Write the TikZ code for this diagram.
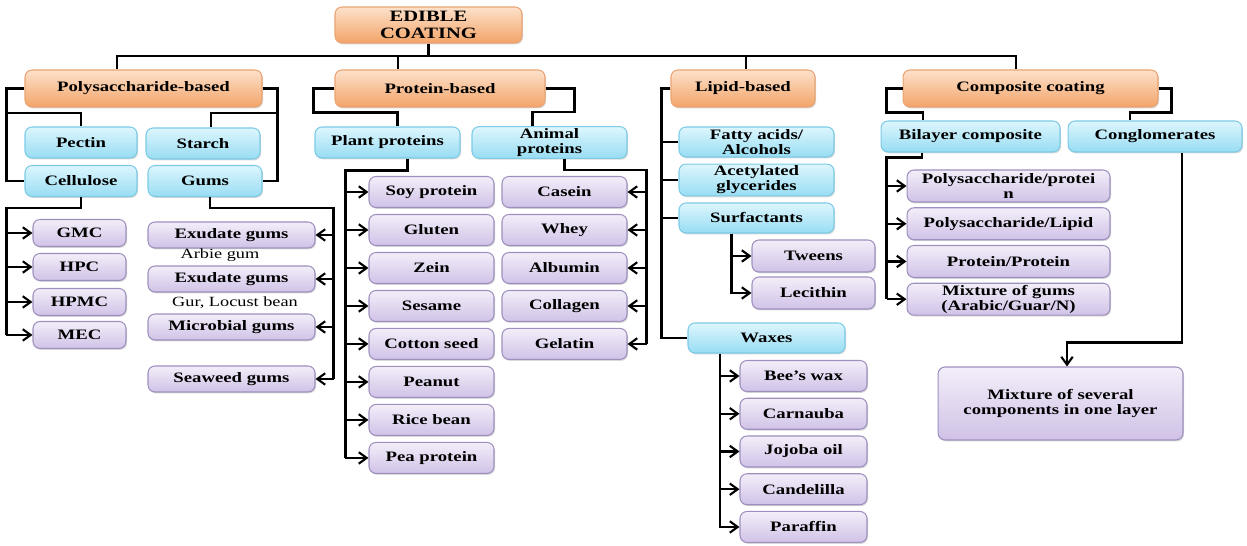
\documentclass[tikz,border=0pt]{standalone}
\usepackage{fontspec}
\setmainfont{Liberation Serif}[FakeStretch=1.3]
\usepackage{xcolor}
\usetikzlibrary{shapes,arrows.meta,positioning,calc,shadows}

\definecolor{orangetop}{HTML}{FDE1CB}
\definecolor{orangebot}{HTML}{F2A468}
\definecolor{orangeline}{HTML}{E9A472}
\definecolor{bluetop}{HTML}{DDF6FD}
\definecolor{bluebot}{HTML}{98DDF3}
\definecolor{blueline}{HTML}{7CCBE6}
\definecolor{purpletop}{HTML}{F3EEF9}
\definecolor{purplebot}{HTML}{D0C2E7}
\definecolor{purpleline}{HTML}{9E90BE}

\begin{document}
\begin{tikzpicture}[x=0.02cm, y=0.02cm, node distance=0.76cm]
    \tikzstyle{boxbase} = [rectangle, rounded corners=4pt, align=center, inner sep=1pt, line width=0.6pt, font=\bfseries\fontsize{8.2}{8.6}\selectfont, drop shadow={shadow xshift=0.6pt, shadow yshift=-0.8pt, opacity=0.3}]
    \tikzstyle{maincat} = [boxbase, draw=orangeline, top color=orangetop, bottom color=orangebot, minimum height=0.74cm]
    \tikzstyle{subcat} = [boxbase, draw=blueline, top color=bluetop, bottom color=bluebot, minimum height=0.62cm]
    \tikzstyle{item} = [boxbase, draw=purpleline, top color=purpletop, bottom color=purplebot, minimum height=0.62cm]
    \tikzstyle{gumnote} = [font=\fontsize{8}{8.4}\selectfont, inner sep=1pt]
    \tikzstyle{link} = [line width=1.2pt]
    \tikzstyle{linkarrow} = [line width=1.2pt, -{Straight Barb[length=4.5pt, width=6.5pt]}]

    \useasboundingbox (0,0) rectangle (1247,-546);

    % Root and main categories
    \node [maincat, minimum width=3.74cm, minimum height=0.72cm, font=\bfseries\fontsize{9}{9.6}\selectfont] (root) at (428.5,-25) {EDIBLE\\COATING};
    \node [maincat, minimum width=4.74cm] (poly) at (143.5,-88.5) {Polysaccharide-based};
    \node [maincat, minimum width=4.2cm] (prot) at (440,-88.5) {Protein-based};
    \node [maincat, minimum width=2.88cm] (lipid) at (743,-88.5) {Lipid-based};
    \node [maincat, minimum width=5.1cm] (comp) at (1030.5,-88.5) {Composite coating};

    % Polysaccharide-based
    \node [subcat, minimum width=2.24cm] (pectin) at (81,-142.5) {Pectin};
    \node [subcat, minimum width=2.28cm] (starch) at (203,-143.5) {Starch};
    \node [subcat, minimum width=2.24cm] (cellulose) at (81,-181) {Cellulose};
    \node [subcat, minimum width=2.28cm] (gums) at (205,-181) {Gums};

    \node [item, minimum width=1.86cm, minimum height=0.54cm] (gmc) at (79.5,-233) {GMC};
    \node [item, minimum width=1.86cm, minimum height=0.54cm, below of=gmc, node distance=0.68cm] (hpc) {HPC};
    \node [item, minimum width=1.86cm, minimum height=0.54cm, below of=hpc, node distance=0.7cm] (hpmc) {HPMC};
    \node [item, minimum width=1.86cm, minimum height=0.54cm, below of=hpmc, node distance=0.66cm] (mec) {MEC};

    \node [item, minimum width=3.34cm, minimum height=0.52cm] (exu1) at (231.5,-235) {Exudate gums};
    \node [gumnote] (arbie) at (220,-255) {Arbie gum};
    \node [item, minimum width=3.34cm, minimum height=0.52cm] (exu2) at (231.5,-279) {Exudate gums};
    \node [gumnote] (gur) at (235,-303) {Gur, Locust bean};
    \node [item, minimum width=3.34cm, minimum height=0.52cm] (micro) at (231.5,-327) {Microbial gums};
    \node [item, minimum width=3.34cm, minimum height=0.52cm] (seaweed) at (231.5,-379) {Seaweed gums};

    % Protein-based
    \node [subcat, minimum width=2.9cm] (plant) at (387.5,-142.5) {Plant proteins};
    \node [subcat, minimum width=3.1cm] (animal) at (549.5,-142.5) {Animal\\proteins};

    \node [item, minimum width=2.5cm] (soy) at (431.5,-192) {Soy protein};
    \node [item, minimum width=2.5cm, below of=soy] (gluten) {Gluten};
    \node [item, minimum width=2.5cm, below of=gluten] (zein) {Zein};
    \node [item, minimum width=2.5cm, below of=zein] (sesame) {Sesame};
    \node [item, minimum width=2.5cm, below of=sesame] (cotton) {Cotton seed};
    \node [item, minimum width=2.5cm, below of=cotton] (peanut) {Peanut};
    \node [item, minimum width=2.5cm, below of=peanut] (rice) {Rice bean};
    \node [item, minimum width=2.5cm, below of=rice] (pea) {Pea protein};

    \node [item, minimum width=2.5cm] (casein) at (564.5,-192) {Casein};
    \node [item, minimum width=2.5cm, below of=casein] (whey) {Whey};
    \node [item, minimum width=2.5cm, below of=whey] (albumin) {Albumin};
    \node [item, minimum width=2.5cm, below of=albumin] (collagen) {Collagen};
    \node [item, minimum width=2.5cm, below of=collagen] (gelatin) {Gelatin};

    % Lipid-based
    \node [subcat, minimum width=3.1cm, minimum height=0.6cm] (fatty) at (756.5,-142) {Fatty acids/\\Alcohols};
    \node [subcat, minimum width=3.1cm, minimum height=0.6cm, below of=fatty] (acetyl) {Acetylated\\glycerides};
    \node [subcat, minimum width=3.1cm, minimum height=0.6cm, below of=acetyl] (surf) {Surfactants};
    \node [item, minimum width=2.46cm, minimum height=0.64cm] (tweens) at (813.5,-256) {Tweens};
    \node [item, minimum width=2.46cm, minimum height=0.64cm, below of=tweens, node distance=0.74cm] (lecithin) {Lecithin};

    \node [subcat, minimum width=3.14cm, minimum height=0.6cm] (waxes) at (766.5,-338) {Waxes};
    \node [item, minimum width=2.54cm] (bees) at (803.5,-376) {Bee’s wax};
    \node [item, minimum width=2.54cm, below of=bees, node distance=0.755cm] (carnauba) {Carnauba};
    \node [item, minimum width=2.54cm, below of=carnauba, node distance=0.755cm] (jojoba) {Jojoba oil};
    \node [item, minimum width=2.54cm, below of=jojoba, node distance=0.755cm] (candelilla) {Candelilla};
    \node [item, minimum width=2.54cm, below of=candelilla, node distance=0.755cm] (paraffin) {Paraffin};

    % Composite coating
    \node [subcat, minimum width=3.58cm] (bilayer) at (970.5,-136.5) {Bilayer composite};
    \node [subcat, minimum width=3.48cm] (cong) at (1155,-136.5) {Conglomerates};

    \node [item, minimum width=4.06cm, minimum height=0.64cm] (polyprot) at (1008.5,-186) {Polysaccharide/protei\\n};
    \node [item, minimum width=4.06cm, minimum height=0.64cm, below of=polyprot, node distance=0.755cm] (polylip) {Polysaccharide/Lipid};
    \node [item, minimum width=4.06cm, minimum height=0.64cm, below of=polylip, node distance=0.755cm] (protprot) {Protein/Protein};
    \node [item, minimum width=4.06cm, minimum height=0.64cm, below of=protprot, node distance=0.755cm] (mixg) {Mixture of gums\\(Arabic/Guar/N)};
    \node [item, minimum width=4.9cm, minimum height=1.46cm] (mixture) at (1060.5,-403.5) {Mixture of several\\components in one layer};

    % Connections from the root
    \coordinate (bus) at (428.5,-56);
    \draw [link] (root.south) -- (bus);
    \draw [link] ($(poly.north)+(-26.5,0)$) |- (bus);
    \draw [link] ($(prot.north)+(-42,0)$) |- (bus);
    \draw [link] ($(lipid.north)+(3,0)$) |- (bus);
    \draw [link] ($(comp.north)+(-14.5,0)$) |- (bus);

    % Polysaccharide connections
    \draw [link] (poly.west) -- ++(-18,0) |- (cellulose.west);
    \draw [link] ($(poly.west)+(-18,-24.5)$) -| (pectin.north);
    \draw [link] (poly.east) -- ++(15,0) |- (gums.east);
    \draw [link] ($(poly.east)+(15,-24.5)$) -| ($(starch.north)+(8,0)$);

    \draw [link] (cellulose.south) -- ++(0,-11) -| ($(mec.west)+(-26,0)$);
    \draw [linkarrow] ($(gmc.west)+(-26,0)$) -- (gmc.west);
    \draw [linkarrow] ($(hpc.west)+(-26,0)$) -- (hpc.west);
    \draw [linkarrow] ($(hpmc.west)+(-26,0)$) -- (hpmc.west);
    \draw [linkarrow] ($(mec.west)+(-26,0)$) -- (mec.west);

    \draw [link] ($(gums.south)+(5,0)$) -- ++(0,-11) -| ($(seaweed.east)+(18,0)$);
    \draw [linkarrow] ($(exu1.east)+(18,0)$) -- (exu1.east);
    \draw [linkarrow] ($(exu2.east)+(18,0)$) -- (exu2.east);
    \draw [linkarrow] ($(micro.east)+(18,0)$) -- (micro.east);
    \draw [linkarrow] ($(seaweed.east)+(18,0)$) -- (seaweed.east);

    % Protein connections
    \draw [link] (prot.west) -- ++(-21,0) |- ($(plant.north)+(10,14)$) -- ++(0,-14);
    \draw [link] (prot.east) -- ++(29,0) |- ($(animal.north)+(-17,14)$) -- ++(0,-14);

    \draw [link] ($(plant.south)+(20,0)$) -- ++(0,-12) -| ($(pea.west)+(-23,0)$);
    \draw [linkarrow] ($(soy.west)+(-23,0)$) -- (soy.west);
    \draw [linkarrow] ($(gluten.west)+(-23,0)$) -- (gluten.west);
    \draw [linkarrow] ($(zein.west)+(-23,0)$) -- (zein.west);
    \draw [linkarrow] ($(sesame.west)+(-23,0)$) -- (sesame.west);
    \draw [linkarrow] ($(cotton.west)+(-23,0)$) -- (cotton.west);
    \draw [linkarrow] ($(peanut.west)+(-23,0)$) -- (peanut.west);
    \draw [linkarrow] ($(rice.west)+(-23,0)$) -- (rice.west);
    \draw [linkarrow] ($(pea.west)+(-23,0)$) -- (pea.west);

    \draw [link] ($(animal.south)+(15,0)$) -- ++(0,-11) -| ($(gelatin.east)+(19,0)$);
    \draw [linkarrow] ($(casein.east)+(19,0)$) -- (casein.east);
    \draw [linkarrow] ($(whey.east)+(19,0)$) -- (whey.east);
    \draw [linkarrow] ($(albumin.east)+(19,0)$) -- (albumin.east);
    \draw [linkarrow] ($(collagen.east)+(19,0)$) -- (collagen.east);
    \draw [linkarrow] ($(gelatin.east)+(19,0)$) -- (gelatin.east);

    % Lipid connections
    \draw [link] (lipid.west) -- ++(-9,0) |- (waxes.west);
    \draw [link] ($(fatty.west)+(-17,0)$) -- (fatty.west);
    \draw [link] ($(acetyl.west)+(-17,0)$) -- (acetyl.west);
    \draw [link] ($(surf.west)+(-17,0)$) -- (surf.west);

    \draw [linkarrow] ($(surf.south)+(-25,0)$) |- (lecithin.west);
    \draw [linkarrow] ($(tweens.west)+(-21,0)$) -- (tweens.west);

    \draw [linkarrow] ($(waxes.south)+(-46.5,0)$) |- (paraffin.west);
    \draw [linkarrow] ($(bees.west)+(-20,0)$) -- (bees.west);
    \draw [linkarrow] ($(carnauba.west)+(-20,0)$) -- (carnauba.west);
    \draw [linkarrow] ($(jojoba.west)+(-20,0)$) -- (jojoba.west);
    \draw [linkarrow] ($(candelilla.west)+(-20,0)$) -- (candelilla.west);

    % Composite connections
    \draw [link] (comp.west) -- ++(-16,0) |- ($(bilayer.north)+(-47.5,8)$) -- ++(0,-8);
    \draw [link] (comp.east) -- ++(13,0) |- ($(cong.north)+(-25,8)$) -- ++(0,-8);

    \draw [link] ($(bilayer.south)+(-48.5,0)$) -- ++(0,-5) -| ($(mixg.west)+(-20,0)$);
    \draw [linkarrow] ($(polyprot.west)+(-20,0)$) -- (polyprot.west);
    \draw [linkarrow] ($(polylip.west)+(-20,0)$) -- (polylip.west);
    \draw [linkarrow] ($(protprot.west)+(-20,0)$) -- (protprot.west);
    \draw [linkarrow] ($(mixg.west)+(-20,0)$) -- (mixg.west);

    \draw [linkarrow] ($(cong.south)+(27,0)$) |- ($(mixture.north)+(6.5,24)$) -- ($(mixture.north)+(6.5,0)$);
\end{tikzpicture}
\end{document}
